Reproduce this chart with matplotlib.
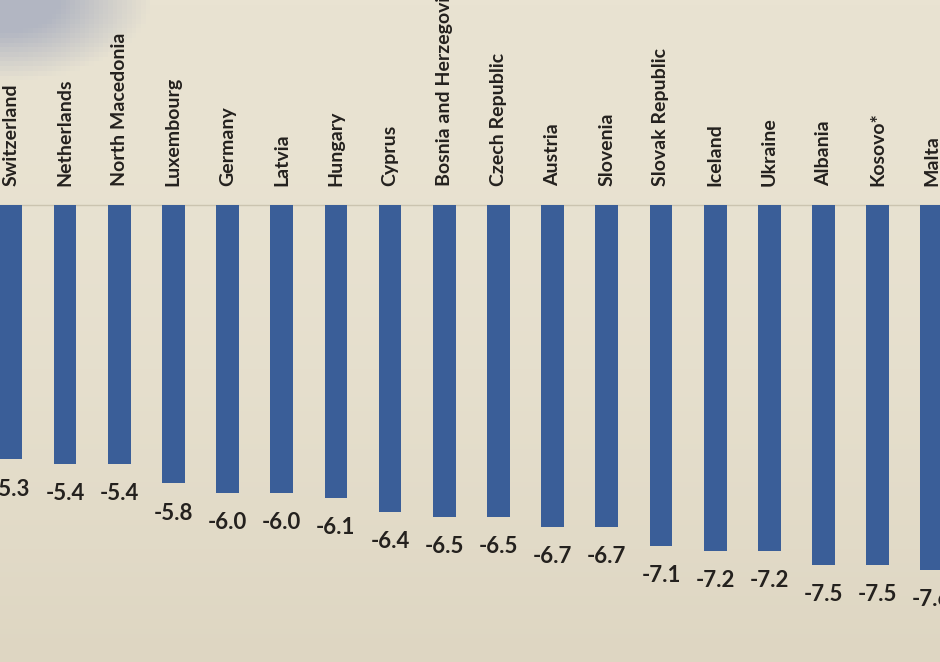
import numpy as np
import matplotlib.pyplot as plt

# Данные: страны и значения (Switzerland и Malta в кадре обрезаны - значения оценочные)
countries = ['Switzerland', 'Netherlands', 'North Macedonia', 'Luxembourg', 'Germany',
             'Latvia', 'Hungary', 'Cyprus', 'Bosnia and Herzegovina', 'Czech Republic',
             'Austria', 'Slovenia', 'Slovak Republic', 'Iceland', 'Ukraine', 'Albania',
             'Kosovo*', 'Malta']
values = [-5.3, -5.4, -5.4, -5.8, -6.0, -6.0, -6.1, -6.4, -6.5, -6.5, -6.7,
          -6.7, -7.1, -7.2, -7.2, -7.5, -7.5, -7.6]

bar_color = '#3a5e98'
text_color = '#24211e'

fig = plt.figure(figsize=(9.4, 6.62), dpi=100)
ax = fig.add_axes([0, 0, 1, 1])

# Фон как у фотографии: светлая бумага с тенью в левом верхнем углу
xmin, xmax = -0.2, 17.15
ymin, ymax = -9.52, 4.27
gx, gy = np.meshgrid(np.linspace(0, 1, 200), np.linspace(0, 1, 140))
paper = np.array([233, 227, 210]) / 255
shade = np.array([178, 182, 194]) / 255
bottom = np.array([222, 214, 194]) / 255
d = np.clip(1.6 * (1 - np.sqrt((gx / 0.16) ** 2 + (gy / 0.12) ** 2)), 0, 1)[..., None]
b = (gy ** 2)[..., None]
img = paper * (1 - b) + bottom * b
img = img * (1 - d) + shade * d
ax.imshow(img, extent=[xmin, xmax, ymin, ymax], aspect='auto', zorder=0)

x = np.arange(len(countries))
ax.bar(x, values, width=0.42, color=bar_color, zorder=2)
ax.axhline(0, color='#cbc4b0', lw=1, zorder=1)

for i, (name, v) in enumerate(zip(countries, values)):
    ax.text(i, 0.4, name, rotation=90, ha='center', va='bottom',
            fontsize=14, fontfamily='Lato', fontweight='bold', color=text_color,
            clip_on=True, zorder=3)
    ax.text(i, v - 0.4, f'{v:.1f}', ha='center', va='top',
            fontsize=16, fontfamily='Lato', fontweight='bold', color=text_color,
            clip_on=True, zorder=3)

ax.set_xlim(xmin, xmax)
ax.set_ylim(ymin, ymax)
ax.axis('off')

plt.savefig('out.png', dpi=100)
